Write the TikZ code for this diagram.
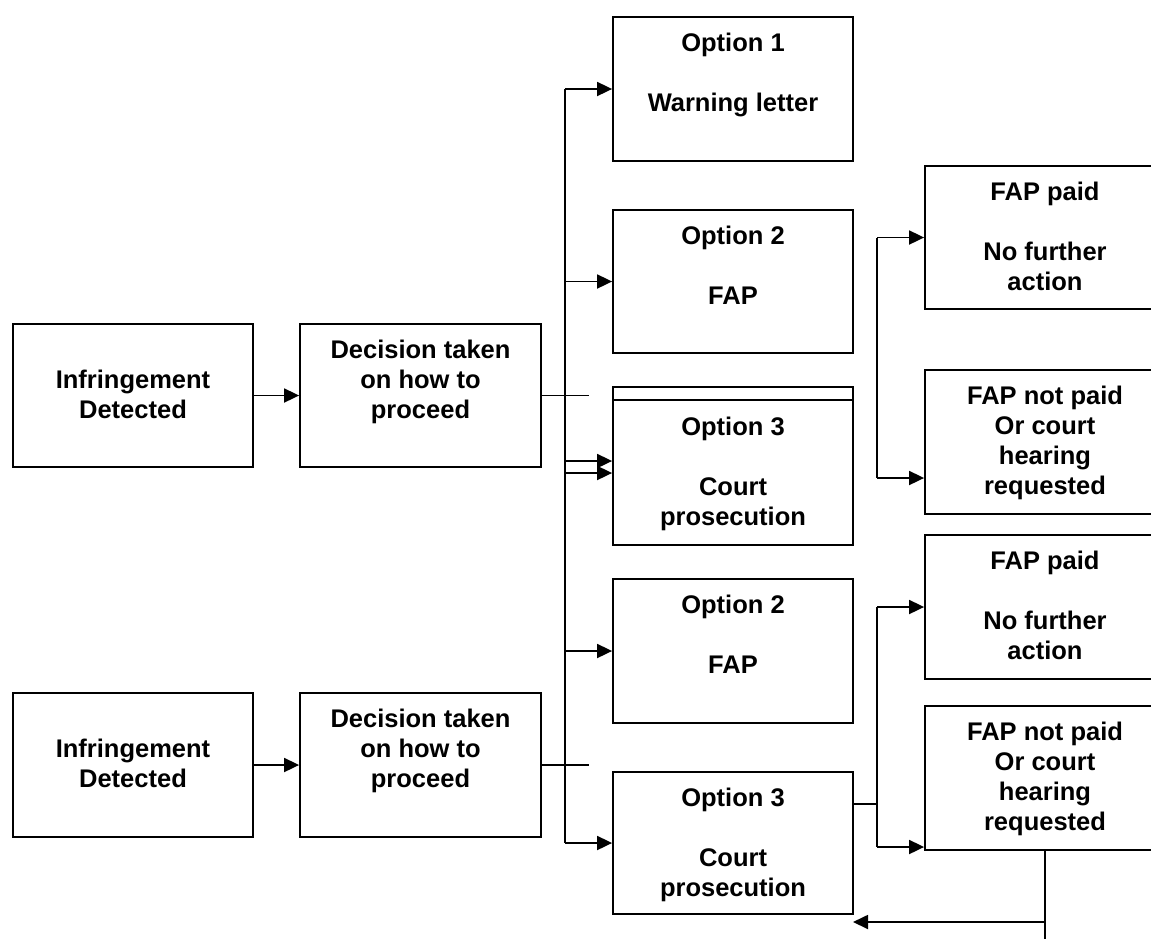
\documentclass[tikz,border=0pt]{standalone}
\usepackage{fontspec}
\setmainfont{Liberation Sans}
\usetikzlibrary{arrows.meta}
\newcommand\bt[4]{\parbox[c][#2][t]{#1}{\centering\vspace*{#3}\strut #4\par}}
\tikzset{
  box/.style={draw, line width=1.8pt, inner sep=0pt, font=\fontsize{25.5}{30}\selectfont\bfseries},
  conn/.style={line width=1.8pt},
  arr/.style={line width=1.8pt, -{Triangle[length=15pt,width=14pt]}},
}
\begin{document}
\begin{tikzpicture}[x=1pt,y=-1pt]
\useasboundingbox (0,0) rectangle (1151,938);
\clip (0,0) rectangle (1151,938);
\fill[white] (0,0) rectangle (1151,938);

% left column
\node[box] (inf1) at (133,395.5) {\bt{240pt}{143pt}{43.5pt}{Infringement\\Detected}};
\node[box] (dec1) at (420.5,395.5) {\bt{241pt}{143pt}{13.5pt}{Decision taken\\on how to\\proceed}};
\node[box] (inf2) at (133,765) {\bt{240pt}{144pt}{43.5pt}{Infringement\\Detected}};
\node[box] (dec2) at (420.5,765) {\bt{241pt}{144pt}{13.5pt}{Decision taken\\on how to\\proceed}};

% options
\node[box] (opt1) at (733,89) {\bt{240pt}{144pt}{13.5pt}{Option 1\\[30pt]Warning letter}};
\node[box] (opt2a) at (733,281.5) {\bt{240pt}{143pt}{13.5pt}{Option 2\\[30pt]FAP}};
\node[box] (opt3a) at (733,466) {\bt{240pt}{158pt}{27.5pt}{Option 3\\[30pt]Court\\prosecution}};
\draw[conn] (opt3a.north west) ++(0,14) -- ++(240,0);
\node[box] (opt2b) at (733,651) {\bt{240pt}{144pt}{13.5pt}{Option 2\\[30pt]FAP}};
\node[box] (opt3b) at (733,843) {\bt{240pt}{142pt}{13.5pt}{Option 3\\[30pt]Court\\prosecution}};

% outcomes
\node[box] (fp1) at (1045,237.5) {\bt{240pt}{143pt}{13.5pt}{FAP paid\\[30pt]No further\\action}};
\node[box] (fn1) at (1045,442) {\bt{240pt}{144pt}{13.5pt}{FAP not paid\\Or court\\hearing\\requested}};
\node[box] (fp2) at (1045,607) {\bt{240pt}{144pt}{13.5pt}{FAP paid\\[30pt]No further\\action}};
\node[box] (fn2) at (1045,778) {\bt{240pt}{144pt}{13.5pt}{FAP not paid\\Or court\\hearing\\requested}};

% infringement -> decision
\draw[arr] (inf1) -- (dec1);
\draw[arr] (inf2) -- (dec2);

% decision stubs
\coordinate (e1) at (589,395.5);
\coordinate (e2) at (589,765);
\draw[conn] (dec1.east) -- (e1);
\draw[conn] (dec2.east) -- (e2);

% main trunk
\coordinate (j1) at (565,89);
\coordinate (j2) at (565,843);
\coordinate (a3) at (565,461);
\coordinate (b3) at (565,473);
\draw[conn] (j1) -- (j2);
\draw[arr] (j1) -- (opt1.west);
\draw[arr] (j1 |- opt2a.west) -- (opt2a.west);
\draw[arr] (a3) -- (a3 -| opt3a.west);
\draw[arr] (b3) -- (b3 -| opt3a.west);
\draw[arr] (j1 |- opt2b.west) -- (opt2b.west);
\draw[arr] (j2) -- (opt3b.west);

% upper FAP trunk
\coordinate (f1) at (877,237.5);
\coordinate (f2) at (877,478);
\draw[conn] (f1) -- (f2);
\draw[arr] (f1) -- (fp1.west);
\draw[arr] (f2) -- (f2 -| fn1.west);

% lower FAP trunk
\coordinate (g0) at (877,804);
\coordinate (g1) at (877,607);
\coordinate (g2) at (877,847);
\draw[conn] (opt3b.east |- g0) -- (g0);
\draw[conn] (g1) -- (g2);
\draw[arr] (g1) -- (fp2.west);
\draw[arr] (g2) -- (g2 -| fn2.west);

% return line
\coordinate (r2) at (1045,940);
\coordinate (r3) at (1045,922);
\coordinate (r4) at (853,922);
\draw[conn] (fn2.south) -- (r2);
\draw[arr] (r3) -- (r4);
\end{tikzpicture}
\end{document}
